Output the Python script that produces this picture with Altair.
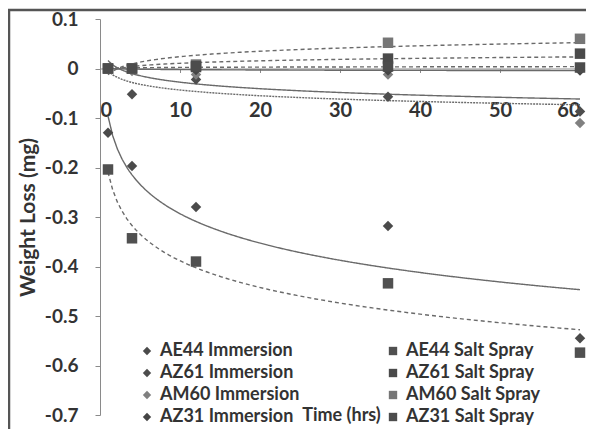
import altair as alt
import pandas as pd

hours = [1, 4, 12, 36, 60]

# legend fills column by column: immersion column first, salt spray second
series_names = [
    "AE44 Immersion", "AZ61 Immersion", "AM60 Immersion", "AZ31 Immersion",
    "AE44 Salt Spray", "AZ61 Salt Spray", "AM60 Salt Spray", "AZ31 Salt Spray",
]

ae44_imm = [-0.13, -0.197, -0.28, -0.318, -0.545]
az61_imm = [0.0, -0.052, -0.022, -0.057, -0.087]
am60_imm = [0.0, -0.005, -0.012, -0.012, -0.11]
az31_imm = [0.0, 0.0, -0.003, -0.004, -0.004]
ae44_salt = [-0.204, -0.343, -0.39, -0.434, -0.574]
az61_salt = [0.0, 0.0, 0.003, 0.02, 0.03]
am60_salt = [0.0, 0.0, 0.008, 0.052, 0.06]
az31_salt = [0.0, 0.0, 0.005, 0.004, 0.002]

values = [ae44_imm, az61_imm, am60_imm, az31_imm, ae44_salt, az61_salt, am60_salt, az31_salt]

rows = []
for name, vals in zip(series_names, values):
    for h, v in zip(hours, vals):
        rows.append({"series": name, "x": h, "y": v})
df = pd.DataFrame(rows)

colors = ["#4a4a4a", "#4d4d4d", "#808080", "#454545",
          "#505050", "#4a4a4a", "#767676", "#4c4c4c"]
shapes = ["diamond"] * 4 + ["square"] * 4

solid_series = ["AE44 Immersion", "AM60 Immersion", "AZ31 Immersion"]
dotted_series = ["AZ61 Immersion"]
dashed_series = ["AE44 Salt Spray", "AZ61 Salt Spray", "AM60 Salt Spray", "AZ31 Salt Spray"]

FONT = "Lato"
W, H = 480, 396
ZERO_FROM_BOTTOM = H * 0.7 / 0.8

base = alt.Chart(df)

points = base.mark_point(filled=True, opacity=1, size=110).encode(
    x=alt.X("x:Q", scale=alt.Scale(domain=[0, 60], nice=False),
            axis=alt.Axis(values=[0, 10, 20, 30, 40, 50, 60], title="Time (hrs)",
                          offset=-ZERO_FROM_BOTTOM, tickSize=4, labelPadding=28,
                          labelFontSize=20, titleFontSize=18,
                          titleX=241, titleY=ZERO_FROM_BOTTOM, titleBaseline="middle",
                          titleAlign="center")),
    y=alt.Y("y:Q", scale=alt.Scale(domain=[-0.7, 0.1], nice=False, zero=False),
            axis=alt.Axis(values=[0.1, 0, -0.1, -0.2, -0.3, -0.4, -0.5, -0.6, -0.7],
                          labelExpr="replace(format(datum.value, '.1~f'), '\u2212', '-')",
                          title="Weight Loss (mg)", tickSize=5, labelPadding=17,
                          labelFontSize=19, titleFontSize=21,
                          titleX=-72, titleY=H / 2, titleBaseline="middle",
                          titleAlign="center", titleAngle=-90)),
    color=alt.Color("series:N", scale=alt.Scale(domain=series_names, range=colors),
                    sort=series_names,
                    legend=alt.Legend(title=None, orient="none", legendX=38, legendY=323,
                                      columns=2, columnPadding=84, rowPadding=4,
                                      symbolSize=70, labelFont=FONT, labelFontSize=18,
                                      labelFontWeight="bold", labelColor="#333333",
                                      labelOffset=4, symbolStrokeWidth=0)),
    shape=alt.Shape("series:N", scale=alt.Scale(domain=series_names, range=shapes),
                    sort=series_names),
)


def trend(names, dash):
    return base.transform_filter(
        alt.FieldOneOfPredicate(field="series", oneOf=names)
    ).transform_regression(
        "x", "y", method="log", groupby=["series"]
    ).mark_line(color="#6a6a6a", strokeWidth=1.4, strokeDash=dash).encode(
        x="x:Q",
        y="y:Q",
        detail="series:N",
    )


frame = alt.Chart(pd.DataFrame({"a": [0]})).mark_rect(
    fillOpacity=0, stroke="#555555", strokeWidth=2.5
).encode(
    x=alt.value(-91), x2=alt.value(700), y=alt.value(-9), y2=alt.value(700)
)

chart = alt.layer(
    frame,
    trend(solid_series, [1, 0]),
    trend(dotted_series, [2, 1]),
    trend(dashed_series, [4, 3]),
    points,
).properties(
    width=W, height=H,
    padding={"left": 92, "top": 11, "right": 6, "bottom": 14},
    autosize=alt.AutoSizeParams(type="none"),
).configure_view(stroke=None).configure_axis(
    grid=False, domainColor="#8a8a8a", tickColor="#8a8a8a",
    labelFont=FONT, labelFontWeight="bold", labelColor="#333333",
    titleFont=FONT, titleFontWeight="bold", titleColor="#333333",
)

chart.save("out.html", embed_options={"renderer": "svg", "actions": False})
